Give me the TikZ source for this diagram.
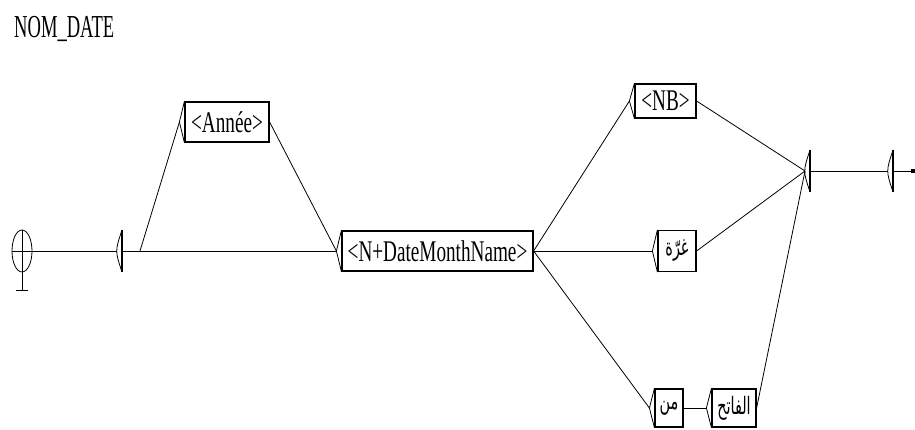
\documentclass[tikz,border=0pt]{standalone}
\usepackage{fontspec}
\TeXXeTstate=1
\newfontfamily\uf{Liberation Serif}[FakeStretch=0.64]
\newfontfamily\tf{Liberation Serif}[FakeStretch=0.58]
\newfontfamily\af{DejaVu Sans}[Script=Arabic,FakeStretch=0.6]
\usetikzlibrary{calc,shapes.geometric}
\tikzset{
  ubox/.style={draw, line width=1.2pt, rectangle, inner sep=0pt, align=center, font=\uf\fontsize{30}{32}\selectfont},
  abox/.style={draw, line width=1.2pt, rectangle, inner sep=0pt, align=center, font=\af\fontsize{24}{26}\selectfont},
  conn/.style={line width=0.8pt},
  lensline/.style={line width=0.8pt}
}
\newcommand{\lens}[2]{%
  \draw[line width=1.4pt] (#1,#2-21) -- (#1,#2+21);
  \draw[lensline] (#1,#2-21) .. controls (#1-7,#2) .. (#1,#2+21);
}
\begin{document}
\begin{tikzpicture}[x=1pt,y=-1pt]
\useasboundingbox (0,0) rectangle (915,430);
% title
\node[anchor=base west, inner sep=0pt, font=\tf\fontsize{32}{34}\selectfont] (title) at (14,38) {NOM\_DATE};
% initial state
\node[draw, ellipse, line width=0.8pt, minimum width=20pt, minimum height=42pt, inner sep=0pt] (init) at (22,251) {};
\draw[conn] (12,251) -- (init.east);
\draw[conn] (init.north) -- (22,290);
\draw[conn] (16,290) -- (28,290);
% empty box 1
\lens{122}{251}
\coordinate (e1tip) at (117,251);
\coordinate (e1out) at (122,251);
\coordinate (e1exit) at (140,251);
% boxes
\node[ubox, minimum width=84pt, minimum height=40pt] (annee) at (227,122) {<Année>};
\node[ubox, minimum width=191pt, minimum height=40pt] (ndmn) at (437.5,251) {<N+DateMonthName>};
\node[ubox, minimum width=61pt, minimum height=34pt] (nb) at (665.5,101) {<NB>};
\node[abox, minimum width=38pt, minimum height=41pt] (ghurra) at (677,251) {\beginR غرّة\endR};
\node[abox, minimum width=28pt, minimum height=38pt] (min) at (669,408) {\beginR من\endR};
\node[abox, minimum width=44pt, minimum height=38pt] (fatih) at (734,408) {\beginR الفاتح\endR};
% left notches
\foreach \b in {annee,ndmn,nb,ghurra,min,fatih}{
  \draw[line width=0.8pt] (\b.north west) -- ($(\b.west)+(-5,0)$) coordinate (\b-in) -- (\b.south west);
}
% empty boxes at the right
\lens{810}{171}
\coordinate (e2tip) at (805,171);
\coordinate (e2out) at (810,171);
\lens{893}{171}
\coordinate (e3tip) at (888,171);
\coordinate (e3out) at (893,171);
\node[fill=black, inner sep=0pt, minimum width=4pt, minimum height=4pt] (final) at (913,171) {};
% connectors
\draw[conn] (init.east) -- (e1tip);
\draw[conn] (e1out) -- (ndmn-in);
\draw[conn] (e1exit) -- (annee-in);
\draw[conn] (annee.east) -- (ndmn-in);
\draw[conn] (ndmn.east) -- (nb-in);
\draw[conn] (ndmn.east) -- (ghurra-in);
\draw[conn] (ndmn.east) -- (min-in);
\draw[conn] (min.east) -- (fatih-in);
\draw[conn] (nb.east) -- (e2tip);
\draw[conn] (ghurra.east) -- (e2tip);
\draw[conn] (fatih.east) -- (e2tip);
\draw[conn] (e2out) -- (e3tip);
\draw[conn] (e3out) -- (final.west);
\end{tikzpicture}
\end{document}
